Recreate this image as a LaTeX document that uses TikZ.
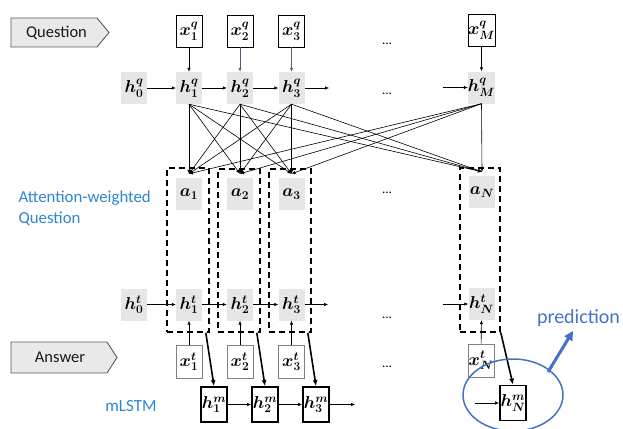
\documentclass[tikz,border=0pt]{standalone}
\usepackage{amsmath}
\usepackage{bm}
\usepackage{fontspec}
\newfontfamily\labelfont{Carlito}
\usetikzlibrary{arrows.meta,calc,shapes.geometric}
\definecolor{boxgray}{RGB}{230,230,230}
\definecolor{lblgray}{RGB}{233,233,233}
\definecolor{lblborder}{RGB}{90,90,90}
\definecolor{txtblue}{RGB}{46,134,209}
\definecolor{predblue}{RGB}{68,114,196}
\definecolor{slate}{RGB}{80,96,120}
\definecolor{xtgray}{RGB}{128,128,128}
\tikzset{
  mth/.style={font=\fontsize{17.28}{20}\selectfont},
  xq/.style={draw=black, line width=0.7pt, fill=white, minimum width=26pt, minimum height=32pt, inner sep=0pt, mth},
  hg/.style={fill=boxgray, minimum width=26pt, minimum height=32pt, inner sep=0pt, mth},
  xt/.style={draw=xtgray, line width=0.8pt, fill=white, minimum width=26pt, minimum height=33pt, inner sep=0pt, mth},
  hmb/.style={draw=black, line width=1.8pt, fill=white, minimum width=26pt, minimum height=35pt, inner sep=0pt, mth},
  dbox/.style={draw=black, line width=1.6pt, dash pattern=on 6pt off 4pt, inner sep=0pt},
  arr/.style={-{Latex[length=4pt,width=3.5pt]}, line width=0.6pt},
  thk/.style={-{Latex[length=6pt,width=5pt]}, line width=1.6pt},
  dotsty/.style={font=\labelfont\fontsize{13}{13}\selectfont, anchor=base, inner sep=0pt},
  lblbox/.style={draw=lblborder, fill=lblgray, line width=0.9pt},
  lbltext/.style={font=\labelfont\fontsize{16.5}{18}\selectfont, text=black!90},
  bluetext/.style={font=\labelfont\fontsize{16.8}{21}\selectfont, text=txtblue},
}
\begin{document}
\begin{tikzpicture}[x=1pt,y=-1pt]
\useasboundingbox (0,0) rectangle (623,428);

% side labels
\draw[lblbox] (11,18) -- (97,18) -- (109,32.5) -- (97,47) -- (11,47) -- cycle;
\node[lbltext] (qlbl) at (56.5,33) {Question};
\draw[lblbox] (11,342) -- (107,342) -- (117,357.5) -- (107,373) -- (11,373) -- cycle;
\node[lbltext] (albl) at (60,357.5) {Answer};
\node[bluetext, align=left, anchor=west] (attn) at (15,208.5) {Attention-weighted\\Question};
\node[bluetext, font=\labelfont\fontsize{17}{18}\selectfont] (mlstm) at (131,406) {mLSTM};

% dashed boxes
\node[dbox, minimum width=42pt, minimum height=164pt] (d1) at (188,250) {};
\node[dbox, minimum width=42pt, minimum height=163pt] (d2) at (239,250.5) {};
\node[dbox, minimum width=42pt, minimum height=163pt] (d3) at (290,250.5) {};
\node[dbox, minimum width=40pt, minimum height=164pt] (dN) at (480,250) {};

% question inputs
\node[xq] (x1q) at (189,31) {$\bm{x^{q}_{1}}$};
\node[xq] (x2q) at (240,31) {$\bm{x^{q}_{2}}$};
\node[xq] (x3q) at (291.5,31) {$\bm{x^{q}_{3}}$};
\node[xq] (xMq) at (481.5,30.5) {$\bm{x^{q}_{M}}$};

% question hidden states
\node[hg] (h0q) at (134,88) {$\bm{h^{q}_{0}}$};
\node[hg] (h1q) at (189,88) {$\bm{h^{q}_{1}}$};
\node[hg] (h2q) at (240,88) {$\bm{h^{q}_{2}}$};
\node[hg] (h3q) at (291.5,88) {$\bm{h^{q}_{3}}$};
\node[hg] (hMq) at (481.5,87.5) {$\bm{h^{q}_{M}}$};
\coordinate (q3out) at (329,88);
\coordinate (qMin) at (443,87.5);

% attention vectors
\node[hg] (a1) at (189,194) {$\bm{a_{1}}$};
\node[hg] (a2) at (240,194) {$\bm{a_{2}}$};
\node[hg] (a3) at (291.5,194) {$\bm{a_{3}}$};
\node[hg] (aN) at (482,192) {$\bm{a_{N}}$};

% answer hidden states
\node[hg] (h0t) at (134,304.5) {$\bm{h^{t}_{0}}$};
\node[hg] (h1t) at (189,304.5) {$\bm{h^{t}_{1}}$};
\node[hg] (h2t) at (240,304.5) {$\bm{h^{t}_{2}}$};
\node[hg] (h3t) at (291.5,304.5) {$\bm{h^{t}_{3}}$};
\node[hg] (hNt) at (481.5,304) {$\bm{h^{t}_{N}}$};
\coordinate (t3out) at (328,304.5);
\coordinate (tNin) at (443,304);

% answer inputs
\node[xt] (x1t) at (189,361.5) {$\bm{x^{t}_{1}}$};
\node[xt] (x2t) at (240,361.5) {$\bm{x^{t}_{2}}$};
\node[xt] (x3t) at (291.5,361.5) {$\bm{x^{t}_{3}}$};
\node[xt] (xNt) at (481,360.5) {$\bm{x^{t}_{N}}$};

% mLSTM states
\node[hmb] (h1m) at (214,404.5) {$\bm{h^{m}_{1}}$};
\node[hmb] (h2m) at (265,404.5) {$\bm{h^{m}_{2}}$};
\node[hmb] (h3m) at (316,404.5) {$\bm{h^{m}_{3}}$};
\node[hmb] (hNm) at (513,403) {$\bm{h^{m}_{N}}$};
\coordinate (m3out) at (355,404.5);
\coordinate (mNin) at (475,403);

% ellipses
\node[dotsty] (e1) at (387,45) {...};
\node[dotsty] (e2) at (387,94) {...};
\node[dotsty] (e3) at (387,193) {...};
\node[dotsty] (e4) at (387,318) {...};
\node[dotsty] (e5) at (387,367) {...};

% question arrows
\draw[arr] (x1q) -- (h1q);
\draw[arr, slate] (x2q) -- (h2q);
\draw[arr, slate] (x3q) -- (h3q);
\draw[arr] (xMq) -- (hMq);
\draw[arr] (h0q) -- (h1q);
\draw[arr] (h1q) -- (h2q);
\draw[arr] (h2q) -- (h3q);
\draw[arr] (h3q.east) -- (q3out);
\draw[arr] (qMin) -- (hMq.west);

% attention connections
\foreach \s in {h1q,h2q,h3q,hMq}{
  \foreach \t in {a1,a2,a3,aN}{
    \draw[arr] (\s.south) -- ([yshift=4pt]\t.north);
  }
}

% answer arrows
\draw[arr] (h0t) -- (h1t);
\draw[arr] (h1t) -- (h2t);
\draw[arr] (h2t) -- (h3t);
\draw[arr] (h3t.east) -- (t3out);
\draw[arr] (tNin) -- (hNt.west);
\draw[arr] (x1t) -- (h1t);
\draw[arr] (x2t) -- (h2t);
\draw[arr] (x3t) -- (h3t);
\draw[arr] (xNt) -- (hNt);

% mLSTM arrows
\draw[arr] (h1m) -- (h2m);
\draw[arr] (h2m) -- (h3m);
\draw[arr] (h3m.east) -- (m3out);
\draw[arr] (mNin) -- (hNm.west);
\draw[thk] ([xshift=-4pt]d1.south east) -- (h1m.north);
\draw[thk] ([xshift=-4pt]d2.south east) -- (h2m.north);
\draw[thk] ([xshift=-4pt]d3.south east) -- (h3m.north);
\draw[thk] (dN.south east) -- (hNm.north);

% prediction
\node[draw=predblue, line width=1.5pt, ellipse, minimum width=100pt, minimum height=72pt, inner sep=0pt] (pell) at (513,395) {};
\node[font=\labelfont\fontsize{20}{22}\selectfont, text=predblue] (pred) at (578.5,318) {prediction};
\coordinate (pstart) at (548,372);
\coordinate (pend) at (573,331);
\draw[predblue, line width=3pt, -{Triangle[length=9pt,width=9pt]}] (pstart) -- (pend);
\end{tikzpicture}
\end{document}
